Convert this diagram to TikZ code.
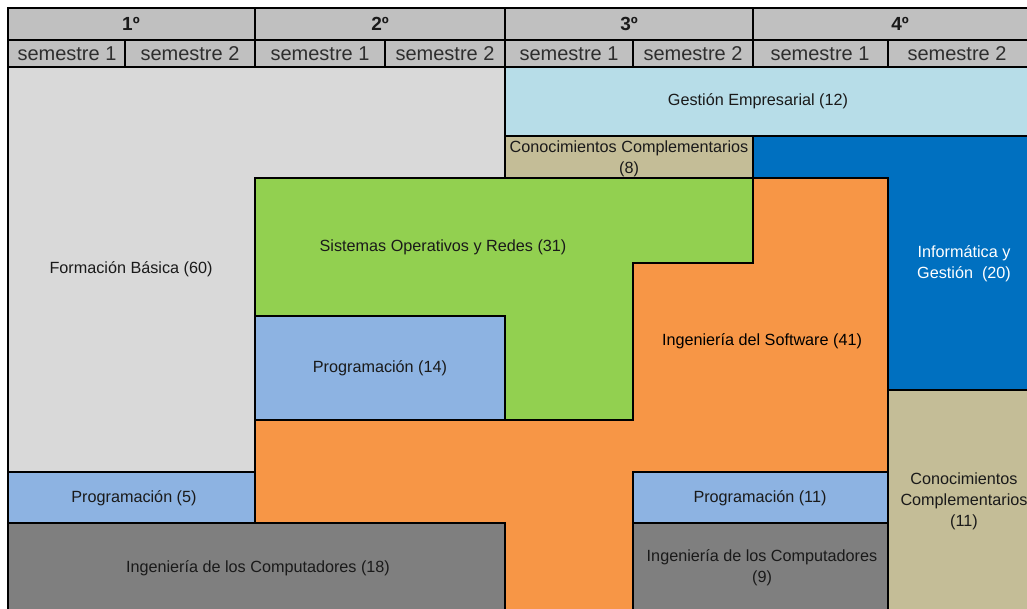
\documentclass[tikz,border=0pt]{standalone}
\usepackage{fontspec}
\setmainfont{Liberation Sans}
\definecolor{headgray}{HTML}{C0C0C0}
\definecolor{fbgray}{HTML}{D9D9D9}
\definecolor{gestion}{HTML}{B7DDE8}
\definecolor{tan}{HTML}{C4BD97}
\definecolor{infoblue}{HTML}{0070C0}
\definecolor{sogreen}{HTML}{92D050}
\definecolor{progblue}{HTML}{8DB3E2}
\definecolor{isorange}{HTML}{F79646}
\definecolor{icgray}{HTML}{7F7F7F}
\definecolor{txt}{HTML}{1A1A1A}
\definecolor{semtxt}{HTML}{2E2E2E}
\tikzset{
  blk/.style={draw=black},
  lbl/.style={font=\fontsize{16.2}{21}\selectfont,text=txt,align=center,inner sep=0pt,yshift=-1.5pt},
  hdr/.style={draw=black,fill=headgray},
  yr/.style={font=\fontsize{19}{21}\selectfont\bfseries,text=txt,inner sep=0pt},
  sem/.style={font=\fontsize{20}{21}\selectfont,text=semtxt,inner sep=0pt}
}
\begin{document}
\begin{tikzpicture}[x=1pt,y=-1pt,line width=2.2pt,line join=miter]
\useasboundingbox (0,0) rectangle (1027,609);
\clip (0,0) rectangle (1027,609);
\fill[white] (0,0) rectangle (1027,609);
\filldraw[blk,fill=fbgray] (8,67) -- (505,67) -- (505,178) -- (255,178) -- (255,472) -- (8,472) -- cycle;
\filldraw[blk,fill=gestion] (505,67) rectangle (1040,136);
\filldraw[blk,fill=tan] (505,136) rectangle (753,178);
\filldraw[blk,fill=infoblue] (753,136) -- (1040,136) -- (1040,390) -- (888,390) -- (888,178) -- (753,178) -- cycle;
\filldraw[blk,fill=sogreen] (255,178) -- (753,178) -- (753,263) -- (633,263) -- (633,420) -- (505,420) -- (505,316) -- (255,316) -- cycle;
\filldraw[blk,fill=progblue] (255,316) rectangle (505,420);
\filldraw[blk,fill=isorange] (753,178) -- (888,178) -- (888,472) -- (633,472) -- (633,620) -- (505,620) -- (505,523) -- (255,523) -- (255,420) -- (633,420) -- (633,263) -- (753,263) -- cycle;
\filldraw[blk,fill=progblue] (8,472) rectangle (255,523);
\filldraw[blk,fill=icgray] (8,523) rectangle (505,620);
\filldraw[blk,fill=progblue] (633,472) rectangle (888,523);
\filldraw[blk,fill=icgray] (633,523) rectangle (888,620);
\filldraw[blk,fill=tan] (888,390) rectangle (1040,620);
\node[lbl] (fb) at (131,268) {Formación Básica (60)};
\node[lbl] (ge) at (758,100) {Gestión Empresarial (12)};
\node[lbl] (cc8) at (629,157) {Conocimientos Complementarios\\(8)};
\node[lbl,text=white] (ig) at (964,262) {Informática y\\Gestión\ \ (20)};
\node[lbl] (sor) at (443,246) {Sistemas Operativos y Redes (31)};
\node[lbl] (p14) at (380,367) {Programación (14)};
\node[lbl,text=black] (is) at (762,340) {Ingeniería del Software (41)};
\node[lbl] (p5) at (134,497) {Programación (5)};
\node[lbl] (ic18) at (258,567) {Ingeniería de los Computadores (18)};
\node[lbl] (p11) at (760,497) {Programación (11)};
\node[lbl] (ic9) at (762,566) {Ingeniería de los Computadores\\(9)};
\node[lbl] (cc11) at (964,500) {Conocimientos\\Complementarios\\(11)};
\filldraw[hdr] (8,8) rectangle (255,40);
\filldraw[hdr] (255,8) rectangle (505,40);
\filldraw[hdr] (505,8) rectangle (753,40);
\filldraw[hdr] (753,8) rectangle (1040,40);
\filldraw[hdr] (8,40) rectangle (125,67);
\filldraw[hdr] (125,40) rectangle (255,67);
\filldraw[hdr] (255,40) rectangle (385,67);
\filldraw[hdr] (385,40) rectangle (505,67);
\filldraw[hdr] (505,40) rectangle (633,67);
\filldraw[hdr] (633,40) rectangle (753,67);
\filldraw[hdr] (753,40) rectangle (888,67);
\filldraw[hdr] (888,40) rectangle (1040,67);
\node[yr] (y1) at (131,24) {1º};
\node[yr] (y2) at (380,24) {2º};
\node[yr] (y3) at (629,24) {3º};
\node[yr] (y4) at (900,24) {4º};
\node[sem] (s11) at (67,54) {semestre 1};
\node[sem] (s12) at (190,54) {semestre 2};
\node[sem] (s21) at (320,54) {semestre 1};
\node[sem] (s22) at (445,54) {semestre 2};
\node[sem] (s31) at (569,54) {semestre 1};
\node[sem] (s32) at (693,54) {semestre 2};
\node[sem] (s41) at (820,54) {semestre 1};
\node[sem] (s42) at (957,54) {semestre 2};
\end{tikzpicture}
\end{document}
